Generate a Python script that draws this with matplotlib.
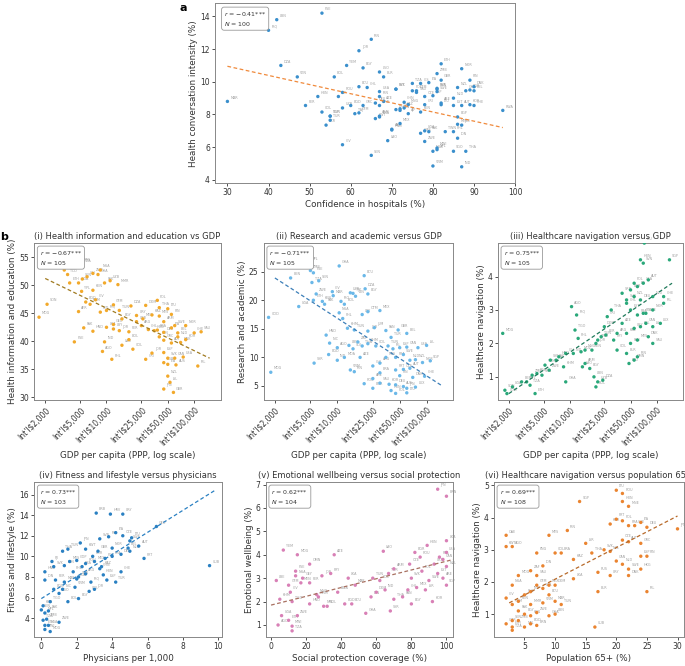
import matplotlib
matplotlib.use("Agg")
import matplotlib.pyplot as plt
import matplotlib.ticker as mt
import numpy as np

plt.rcParams['font.family'] = ['DejaVu Sans']

# ---- panel a: confidence in hospitals vs health conversation intensity
a_lab = ['MAR','PSE','LBN','IRQ','IRN','JOR','DZA','VEN','YEM','EGY','BOL','ECU','CHL','LSO','BLR','ETH','NOR','ZMB','GBR','FIN',
         'TZA','CIS','ITA','SVK','PRT','SVN','BGR','DNK','NZL','SWE','GHA','BEL','HUN','SEF','ROU','PER','COL','UZB','SGP','TUR',
         'UKR','BGD','TAJ','GTM','DEU','KWT','SRB','GRC','IRN2','BRA','MEX','TJK','AJP','KEN','ARG','KAZ','CHN','MNG','GTM2','CRI',
         'PHL','PAK','ZWE','ARE','NPL','NGA','VNM','SGO','IDN','THA','UGA','IND','EGP','MYS','RWA','CHE','AUT','NLD','CZE','ESP',
         'FRA','POL','IRL','ARM','AZE','CAN','EST','LTU','USA','JPN','TWN','TUN','KOR','MWI','SAU','LAO','HND','CMR','SEN','CIV']
a_x = [30,53,42,40,65,62,43,47,59,63,56,62,64,67,68,82,87,81,82,89,
       75,77,79,71,71,81,89,90,86,81,88,90,52,57,58,49,53,58,55,55,
       54,60,61,62,66,66,67,63,67,67,72,72,74,77,70,73,73,74,76,78,
       85,79,78,82,81,80,80,85,86,88,78,87,86,86,97,90,87,85,78,80,
       81,75,71,67,68,72,85,82,67,87,83,55,89,81,76,69,70,77,65,58]
a_y = [8.8,14.2,13.8,13.15,12.6,11.9,11.0,10.3,11.0,10.85,10.3,9.7,9.65,10.6,10.3,11.1,10.8,10.5,10.1,10.1,
       9.9,9.9,9.95,9.55,9.55,9.6,9.5,9.7,9.65,9.4,9.45,9.45,9.1,9.1,9.35,8.55,8.15,8.4,7.9,7.65,
       7.35,8.55,8.05,8.1,8.7,7.75,8.55,8.55,9.1,7.85,7.45,8.35,8.05,8.15,7.1,8.4,8.75,8.6,9.45,8.6,
       6.95,6.95,6.35,8.7,5.85,5.75,4.85,5.75,6.55,5.75,7.0,4.8,7.85,7.4,8.25,8.55,8.55,9.0,9.1,9.15,
       9.55,9.45,8.3,7.9,8.8,8.25,8.55,8.6,9.4,7.35,6.95,7.9,8.6,5.95,9.35,6.4,7.05,6.85,5.5,6.15]
a_trend = [30, 97]
a_fit = [10.95, 7.2]

# ---- panel i: GDP vs health information and education
i_lab = ['MDG','SDN','BEN','TCD','NPL','ZMB','TZA','ETH','UGA','SEN','CIV','ZWE','NGA','GHA','KEN','PAK','UZB','MMR','YPL','CIV2',
         'BGD','KHM','AFR','IND','IRQ','GTM','TUN','DZA','DOM','POL','THA','LTU','EGY','URY','MEX','KAZ','MYS','FIN','ARM','SWE',
         'NOR','PAK2','HND','LKA','LBY','JOR','PER','ARG','CHL','HUN','BRA','DEU','ITA','BEL','CHE','SAU','IND2','PSE','AGO','PHL',
         'LAO','BOL','COL','CRI','JOR2','ESP','AUT','SVK','CAN','BGR','ITA2','AUS','USA','IRL','NZL','ISL','JPN','GBR','LBN','GRC',
         'NLD','DNK','KOR','UKR','GEO']
i_x = [1700,2100,3300,3600,4200,5000,5200,3800,4800,5300,6000,7000,8500,8000,7000,9500,11000,13500,5200,7500,
       5800,6500,4800,8500,10000,12000,14000,19000,28000,38000,40000,50000,15000,22000,26000,33000,40000,55000,45000,60000,
       80000,5500,7000,10000,12000,14000,18000,25000,30000,35000,38000,45000,55000,65000,100000,120000,9500,4300,9000,11500,
       15000,18000,20000,28000,33000,45000,55000,50000,60000,45000,50000,62000,75000,110000,50000,53000,45000,58000,40000,45000,
       65000,70000,80000,22000,12000]
i_y = [44.3,46.6,52.7,51.9,54.0,53.8,53.6,50.4,50.4,51.1,51.5,52.1,52.7,51.9,49.1,50.4,50.8,50.1,48.9,47.4,
       47.0,46.6,45.3,45.2,45.5,46.5,45.5,46.3,46.4,47.3,46.0,45.8,44.0,44.6,44.0,44.7,44.5,44.8,43.5,42.8,
       42.8,42.4,41.8,42.5,42.2,41.9,41.7,42.8,42.1,41.9,42.0,41.6,42.4,41.5,41.5,41.7,39.9,39.9,38.2,36.8,
       39.3,40.3,38.6,36.8,37.9,38.0,39.7,37.0,37.0,36.2,35.9,35.8,37.2,35.6,33.8,32.7,31.5,30.9,40.8,40.2,
       40.8,39.8,40.3,43.5,43.0]
i_trend = [2000, 150000]
i_fit = [51.2, 37.0]

# ---- panel ii: GDP vs research and academic
ii_lab = ['COD','MDG','BEN','BFA','NPL','ZMB','PSE','SEN','TZA','UGA','ETH','ZWE','KEN','PAK','CIV','GHA','MAR','IRQ','BOL','UZB',
          'TJK','ISN','ECU','DZA','EGY','LBY','OTM','MEX','NGA','PHL','KHM','TUN','JOR','JUM','HND','NIC','AGO','LBN','SLV','ZAF',
          'THA','KHM2','COL','PAN','TUR','GBR','BEL','TUN2','IRL','ESP','CAN','USA','ISL','BGD','IND','MDA','SYR','AZE','VNM','IRN',
          'CHL','ARG','MYS','FRA','SWE','NLD','NZL','NOR','SGP','BRA','PRT','CZE','AUT','FIN','DNK','CHE','ARE','ROU','SAU','KOR',
          'DEU','AUS','JPN','LUX','HUN','POL','BGR','LTU']
ii_x = [1700,1800,3000,3500,4800,5000,5400,6200,5200,3700,5400,5800,6800,7200,8800,10500,9000,11000,12000,14000,
        15000,16000,20000,20500,22000,19000,22000,30000,10500,11500,13000,15500,22000,26000,7500,8200,10000,13500,15000,17000,
        19000,22000,27000,35000,40000,48000,60000,37000,42000,50000,60000,80000,100000,8000,10000,12000,5500,18000,14000,15500,
        25000,30000,35000,45000,55000,65000,75000,90000,110000,30000,45000,55000,65000,50000,70000,95000,25000,20000,30000,38000,
        45000,55000,60000,75000,40000,45000,25000,60000]
ii_y = [17.0,7.4,23.9,28.5,26.5,25.2,24.8,23.4,23.1,18.9,20.0,21.1,19.8,19.3,21.5,26.0,20.8,19.8,19.3,21.3,
        21.2,20.7,24.3,22.0,21.1,17.5,18.0,18.2,17.8,16.8,15.1,14.8,14.6,15.2,13.9,12.5,11.7,12.1,11.5,12.7,
        12.0,12.4,12.0,14.7,13.5,14.8,14.2,12.0,11.5,11.7,11.8,11.7,12.1,10.5,9.5,10.0,9.0,10.0,7.8,7.5,
        8.5,9.0,10.0,10.0,10.5,9.5,9.6,9.1,9.4,7.3,7.8,7.9,8.1,6.8,6.5,6.7,6.3,5.4,5.5,5.3,
        5.2,4.9,4.6,4.8,4.2,3.7,4.6,3.8]
ii_trend = [2000, 150000]
ii_fit = [23.9, 5.0]

# ---- panel iii: GDP vs healthcare navigation
iii_lab = ['MDG','SDN','COD','UGA','BEN','NPL','TZA','ETH','ZMB','BFA','SEN','YEM','ZWE','SYR','PAK','KHM','GHA','HND','CIV','IND',
           'AGO','IRQ','TGO','PHL','MOZ','LAO','ARM','EGY','LBN','UZB','BOL','DZA','KEN','VNM','TUN','DOM','CRI','THA','PER','PRY',
           'COL','BLR','ECU','OMN','IRN','JOR','MNG','AZE','CHL','BGR','POL','ITA','USA','AUT','HUN','SVN','LTU','SGP','SRB','SVK',
           'NZL','DEU','NLD','CHE','IRL','EST','FRA','SWE','NOR','KAZ','URY','BEL','CAN','ISL','LUX','PAN','MYS','DNK','SAU','FIN','ARG']
iii_x = [1700,1800,1900,2200,2800,3200,3500,4000,3700,4200,4800,5200,5800,6000,7000,8500,9000,7500,9000,11000,
         10500,12000,11500,12500,13500,14000,15000,17000,19000,21000,20000,24000,18000,21000,23000,25000,27000,30000,26000,32000,
         35000,45000,48000,55000,60000,20000,15000,40000,45000,50000,55000,60000,70000,80000,65000,70000,72000,140000,40000,45000,
         55000,65000,90000,120000,120000,50000,60000,75000,90000,45000,55000,65000,75000,90000,110000,50000,60000,80000,90000,70000,35000]
iii_y = [2.3,0.6,0.5,0.7,0.85,0.85,0.75,0.5,1.05,1.1,1.05,1.35,1.2,1.5,1.5,1.3,0.85,1.6,1.7,1.7,
         3.1,2.85,2.4,2.15,1.75,1.3,1.4,1.25,1.0,0.85,0.7,0.9,1.8,2.1,2.2,2.5,2.8,3.0,2.25,2.1,
         1.8,1.7,1.4,1.5,1.6,2.0,1.8,2.6,3.2,3.6,3.8,3.7,3.8,3.9,4.5,4.4,5.0,4.5,3.5,3.3,
         3.4,3.3,3.4,3.4,3.2,3.0,2.85,2.9,3.0,2.3,2.45,2.5,2.6,2.5,2.6,2.0,2.1,2.2,2.0,2.9,2.3]
iii_trend = [2000, 150000]
iii_fit = [0.5, 3.8]

# ---- panel iv: physicians vs fitness and lifestyle
iv_lab = ['CUB','GEO','PRT','AUT','SWE','URY','HRV','BRB','ITA','CZE','LTU','IRL','SVN','JPN','TUN','KWT','THA','FJI','SVK','LBN',
          'MYS','GOP','HND','IDN','PER','MAR','BGD','AGO','NIC','VNM','BOL','EGY','COL','KEN','TGO','SEN','NPL','PAK','TZA','ETH',
          'UGA','MWI','MDG','ZWE','ZMB','CHN','HUN','TUR','CHE','ESP','FRA','DEU','NLD','ARG','MEX','BRA','POL','KOR','GBR','NOR',
          'BEL','IRQ','JOR','LKA','PHL','ROU','KAZ','SRB']
iv_x = [9.5,6.5,5.8,5.5,5.0,4.6,3.9,3.1,4.2,4.6,5.1,3.8,3.3,2.2,1.5,2.5,1.2,0.6,0.7,1.3,
        1.6,2.0,0.2,0.2,0.8,1.3,0.7,1.0,1.2,1.9,1.5,2.1,2.7,0.1,0.5,0.0,0.2,0.4,0.1,0.2,
        0.4,0.2,0.5,1.0,0.3,3.3,3.5,4.2,4.5,3.7,4.0,4.5,5.0,2.5,3.0,2.3,3.6,2.9,3.2,4.0,
        4.9,2.8,3.0,2.0,1.8,2.5,3.4,2.1]
iv_y = [9.1,12.9,9.8,11.0,11.5,14.1,14.1,14.2,12.3,12.0,11.8,11.9,11.7,11.3,10.7,10.7,10.5,9.5,9.0,9.1,
        9.5,9.6,8.5,7.7,7.7,7.5,6.8,6.4,6.8,7.0,5.6,5.9,6.6,5.2,5.6,4.8,4.5,4.7,3.8,3.3,
        3.3,2.9,2.7,3.6,3.9,8.8,8.2,7.5,8.5,7.7,10.0,10.2,10.5,8.3,9.5,9.0,9.8,10.0,10.5,10.8,
        10.8,7.5,6.8,7.8,8.5,9.3,9.0,8.0]
iv_trend = [0, 9.8]
iv_fit = [5.9, 16.4]

# ---- panel v: social protection vs emotional wellbeing
v_lab = ['JPN','BRN','YEM','MDG','OMN','AZE','LAO','BGR','HUN','LKA','LBE','NGA','PSE','GEY','JOR','PRY','LKA2','GTM','MEN','PER',
         'MAR','TUN','COL','TUR','ARM','CZE','ROU','UKR','FRA','POL','EST','ARE','SGP','MEX','CHL','THA','IND','DOM','IDN','BWA',
         'MNG','CIV','KHM','TGO','HND','BOL','ECU','GHA','EGY','SYR','UGA','ETH','ZWE','AGO','MWI','TZA','NPL','BGD','VNM','PAN',
         'SWE','NZL','USA','CAN','SVK','ISR','KOR']
v_x = [95,100,7,15,22,36,64,82,89,100,3,14,14,18,29,34,44,10,17,22,
       48,58,62,67,70,79,85,93,96,86,95,98,100,83,78,70,65,60,57,38,
       26,11,5,12,22,32,46,54,80,68,6,10,15,4,12,12,30,42,27,75,
       90,100,100,98,80,88,92]
v_y = [6.8,6.5,4.2,4.0,3.6,4.0,4.15,4.1,4.4,4.6,2.9,3.1,3.3,3.0,3.1,3.2,3.0,2.7,2.8,2.8,
       2.7,3.0,2.9,3.2,3.4,3.6,3.9,3.6,3.9,3.3,3.2,3.0,2.7,2.6,2.5,2.1,2.5,2.4,2.2,2.4,
       2.3,2.4,2.1,2.0,1.9,1.8,1.9,1.5,1.9,1.6,1.4,1.2,1.4,1.0,0.95,0.75,1.8,1.9,2.2,2.2,
       2.9,3.5,4.1,3.8,3.0,2.5,2.0]
v_trend = [0, 104]
v_fit = [1.85, 3.8]

# ---- panel vi: population 65+ vs healthcare navigation
vi_lab = ['LTU','ROU','HUN','MNE','SGP','PRT','FRA','ITA','CHE','DEU','JPN','POL','KOR','OAE','MYS','IRN','KWT','AGO','PNG','COL',
          'BRA','KAZ','ISR','THA','SVK','NZL','CZE','AUT','GRC','ESP','FIN','CAN','NLD','SWE','HKG','DNK','RUS','URY','BLR','IRL',
          'CUB','LKA','ZAF','IDN','MDG','NGA','CIV','PHL','IND','PER','MEX','DOM','ECU','VNM','MAR','TUN','YEM','PAK','EGY','KEN',
          'ZWE','GHA','LBN','SEN','ZMB','CMR','NPL','ETH','BGD','BRN','TZA','KEN2','MMR','SAU','GTM']
vi_x = [20,21,21,22,14,20,22,24,23,25,30,21,19,2,9,12,2,3,7,10,
        11,13,15,16,18,19,21,22,24,24,25,20,21,22,24,22,17,19,17,25,
        16.5,13,6,8,4,3,2,5,6,8,9,10,9,8,10,11,3,4,5,6,
        7,9,10,3,4,2,5,3,6,7,3,4,6,7,7]
vi_y = [4.85,4.75,4.5,4.35,4.5,3.95,3.75,3.85,3.75,3.7,3.65,3.9,3.8,3.45,3.45,3.6,3.1,3.1,2.9,2.9,
        2.9,2.7,3.2,2.9,3.0,2.95,3.3,3.25,3.2,2.8,2.8,2.65,2.55,2.4,2.4,2.2,2.3,2.2,1.7,1.7,
        0.6,2.1,2.35,2.5,2.2,1.9,1.5,1.6,1.7,1.8,1.9,1.9,1.6,1.35,1.4,1.3,1.3,1.1,1.0,0.95,
        1.05,0.95,1.0,0.8,0.8,0.7,0.6,0.6,0.7,0.65,0.5,1.4,1.3,2.2,1.9]
vi_trend = [2.5, 30]
vi_fit = [1.35, 4.05]

W, H = 685, 666
fig = plt.figure(figsize=(W/100, H/100), dpi=100)

def panel(rect, x, y, labs, tx, ty, col, tcol, r, n, xlabel, ylabel, title=None, logx=False):
    ax = fig.add_axes(rect)
    ax.scatter(x, y, s=6, color=col, edgecolors='none', zorder=3)
    for xi, yi, l in zip(x, y, labs):
        ax.annotate(l.rstrip('0123456789'), (xi, yi), xytext=(2, 2), textcoords='offset points',
                    fontsize=2.4, color='#a0a0a0', zorder=2)
    ax.plot(tx, ty, ls=(0, (3, 2)), color=tcol, lw=0.9, zorder=4)
    if logx:
        ax.set_xscale('log')
        ax.set_xlim(1500, 200000)
        tk = [2000, 5000, 10000, 25000, 50000, 100000]
        ax.xaxis.set_major_locator(mt.FixedLocator(tk))
        ax.xaxis.set_minor_locator(mt.NullLocator())
        ax.set_xticklabels(["Int'l$%s" % format(t, ',') for t in tk], rotation=45, ha='right',
                           rotation_mode='anchor', fontsize=5.3)
    ax.set_xlabel(xlabel, fontsize=6.3, color='#333333', labelpad=2)
    ax.set_ylabel(ylabel, fontsize=6.3, color='#333333', labelpad=1.5)
    ax.tick_params(labelsize=5.5, length=2.2, width=0.6, colors='#333333', pad=1.5)
    for s in ax.spines.values():
        s.set_color('#888888'); s.set_linewidth(0.7)
    ax.text(0.03, 0.965, "$r$ = %s***\n$N$ = %d" % (r, n), transform=ax.transAxes, fontsize=4.5,
            va='top', ha='left', color='#333333', linespacing=1.35,
            bbox=dict(boxstyle='round,pad=0.4', fc='white', ec='#999999', lw=0.6))
    if title:
        ax.set_title(title, fontsize=6.0, color='#333333', pad=3)
    return ax

axa = panel([0.314, 0.725, 0.438, 0.27], a_x, a_y, a_lab, a_trend, a_fit, '#3a8fcc', '#f08a3c',
            '−0.41', 100, 'Confidence in hospitals (%)', 'Health conversation intensity (%)')
axa.set_xlim(27, 100); axa.set_ylim(3.8, 14.8)
axa.set_yticks([4, 6, 8, 10, 12, 14])
fig.text(0.262, 0.995, 'a', fontsize=8, fontweight='bold', va='top')
fig.text(0.0, 0.652, 'b', fontsize=8, fontweight='bold', va='top')

gx = 'GDP per capita (PPP, log scale)'
rb, rh = 0.399, 0.236
a1 = panel([0.05, rb, 0.272, rh], i_x, i_y, i_lab, i_trend, i_fit, '#f2a92b', '#a07a20',
           '−0.67', 105, gx, 'Health information and education (%)',
           '(i) Health information and education vs GDP', logx=True)
a1.set_ylim(29.5, 57.5); a1.set_yticks([30, 35, 40, 45, 50, 55])
a2 = panel([0.385, rb, 0.277, rh], ii_x, ii_y, ii_lab, ii_trend, ii_fit, '#6bb8e8', '#3c7fb8',
           '−0.71', 105, gx, 'Research and academic (%)',
           '(ii) Research and academic versus GDP', logx=True)
a2.set_ylim(2.5, 30); a2.set_yticks([5, 10, 15, 20, 25])
a3 = panel([0.727, rb, 0.27, rh], iii_x, iii_y, iii_lab, iii_trend, iii_fit, '#2aa87a', '#1f7a5a',
           '0.75', 105, gx, 'Healthcare navigation (%)',
           '(iii) Healthcare navigation versus GDP', logx=True)
a3.set_ylim(0.3, 5.0); a3.set_yticks([1, 2, 3, 4])

sb, sh = 0.044, 0.232
a4 = panel([0.05, sb, 0.274, sh], iv_x, iv_y, iv_lab, iv_trend, iv_fit, '#2a80c2', '#2a80c2',
           '0.73', 103, 'Physicians per 1,000', 'Fitness and lifestyle (%)',
           '(iv) Fitness and lifestyle versus physicians')
a4.set_xlim(-0.4, 10.2); a4.set_ylim(2.2, 17.2); a4.set_yticks([4, 6, 8, 10, 12, 14, 16])
a5 = panel([0.388, sb, 0.274, sh], v_x, v_y, v_lab, v_trend, v_fit, '#d880b6', '#a87060',
           '0.62', 104, 'Social protection coverage (%)', 'Emotional wellbeing (%)',
           '(v) Emotional wellbeing versus social protection')
a5.set_xlim(-3, 104); a5.set_ylim(0.5, 7.1); a5.set_yticks([1, 2, 3, 4, 5, 6, 7])
a6 = panel([0.721, sb, 0.277, sh], vi_x, vi_y, vi_lab, vi_trend, vi_fit, '#ea8430', '#b86a2a',
           '0.69', 108, 'Population 65+ (%)', 'Healthcare navigation (%)',
           '(vi) Healthcare navigation versus population 65+')
a6.set_xlim(0, 31); a6.set_ylim(0.3, 5.1); a6.set_yticks([1, 2, 3, 4, 5])
a6.set_xticks([5, 10, 15, 20, 25, 30])

fig.savefig('out.png', dpi=100)
